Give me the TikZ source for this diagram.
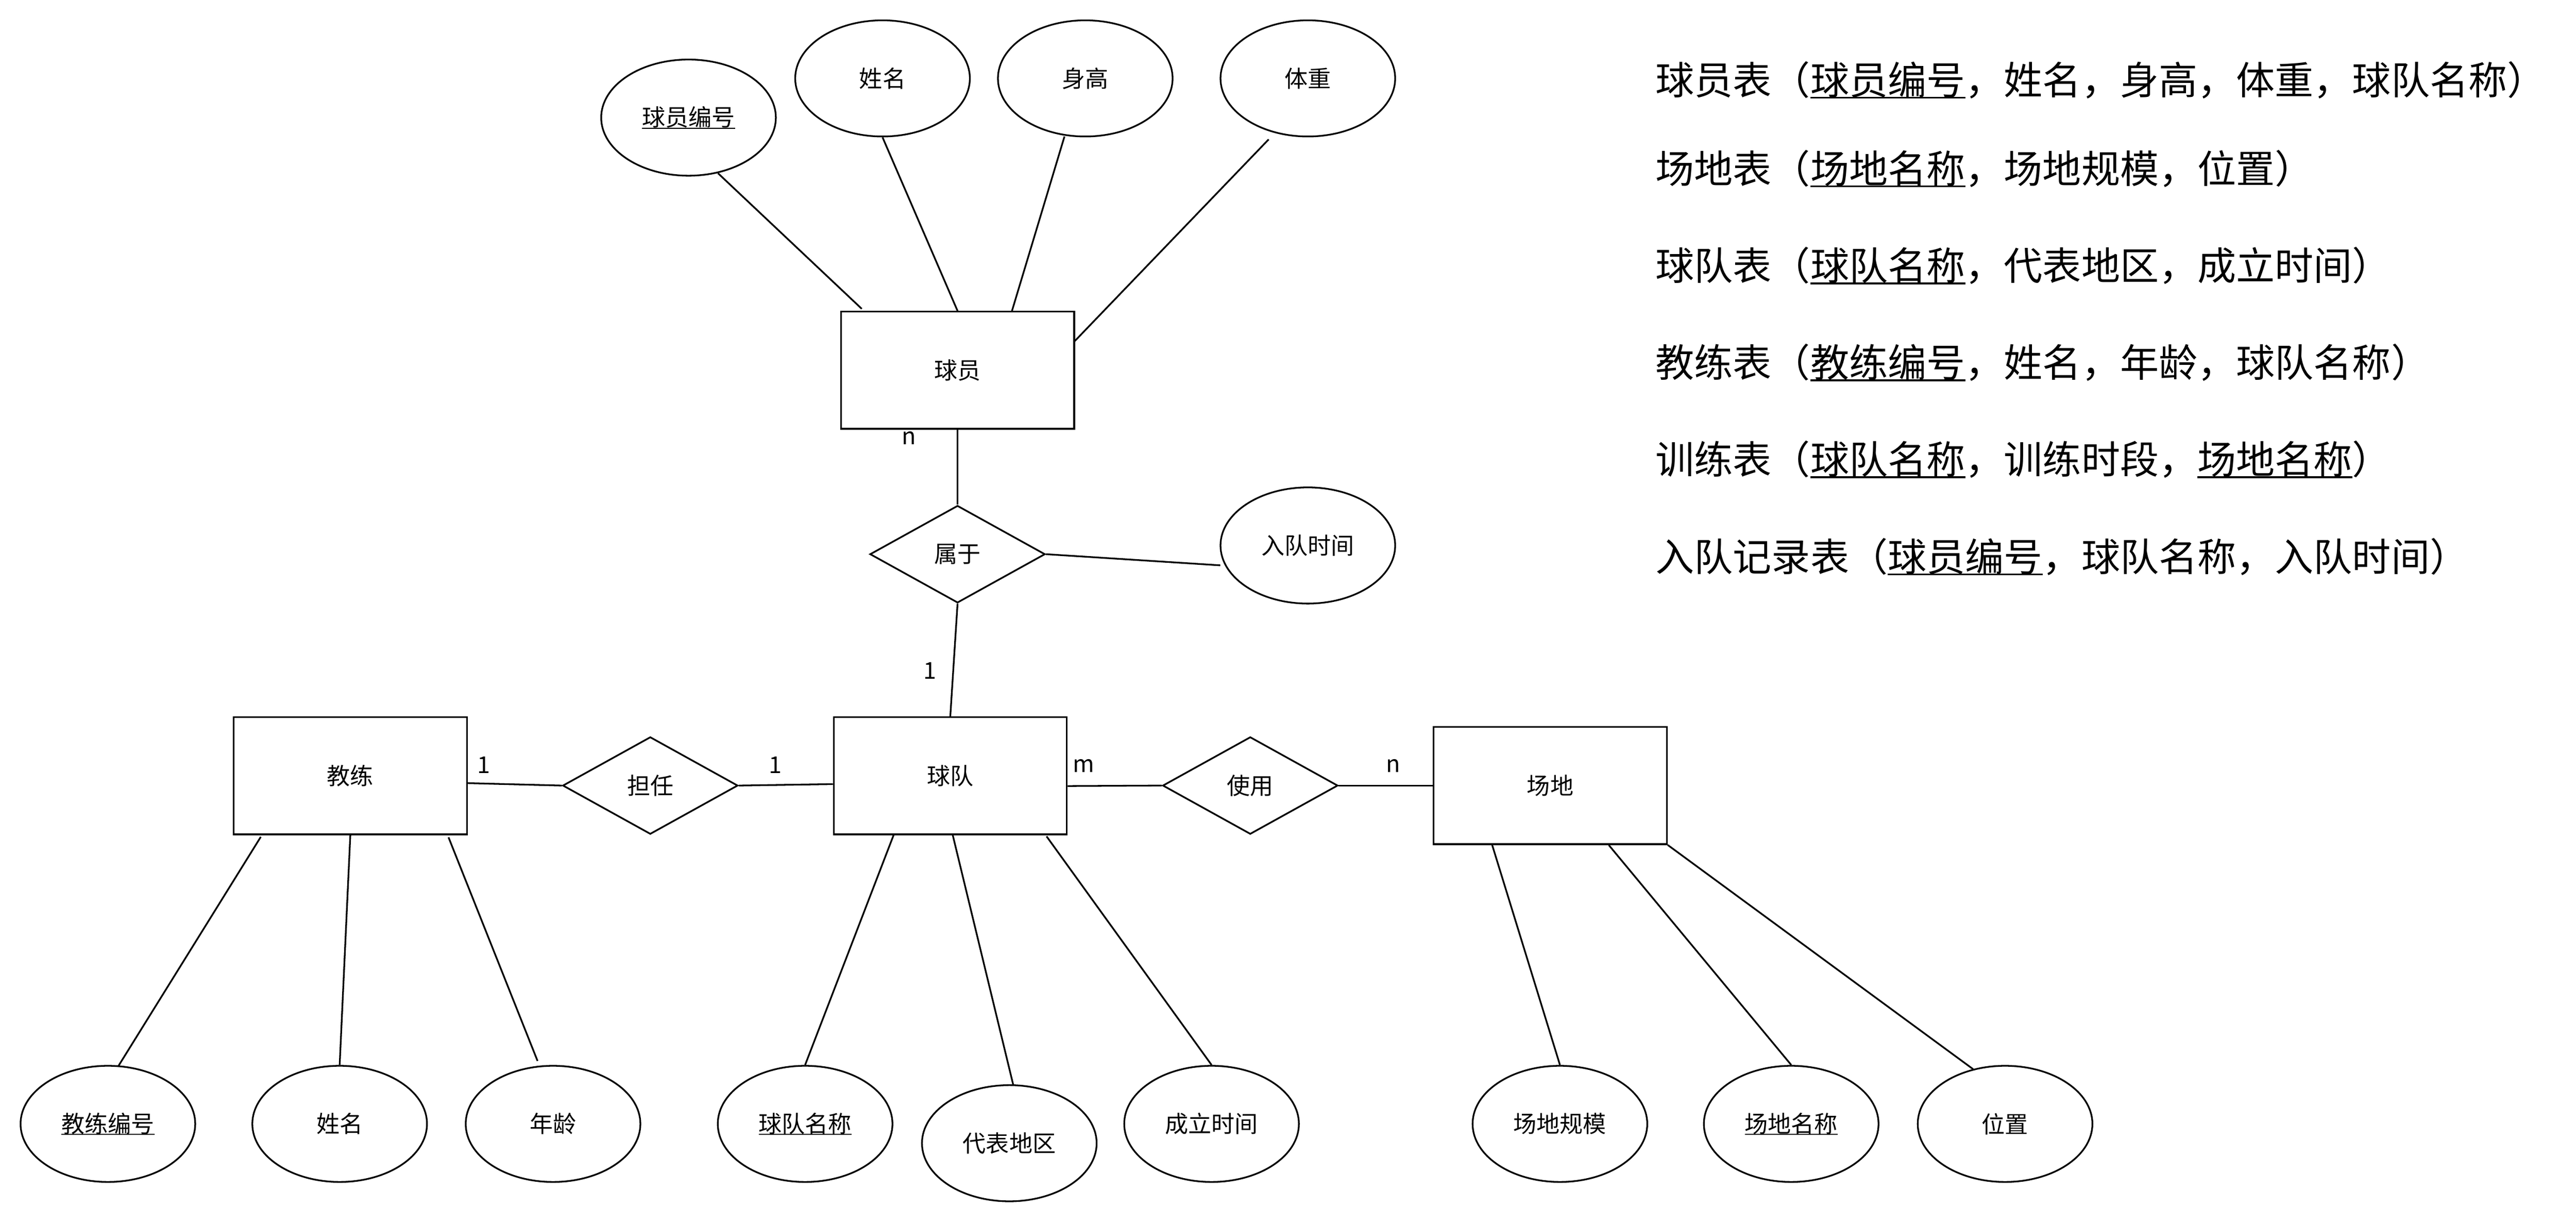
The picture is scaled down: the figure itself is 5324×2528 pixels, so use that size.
\documentclass[tikz,border=0pt]{standalone}
\usepackage{fontspec}
\setmainfont{Noto Sans CJK SC}
\usetikzlibrary{shapes.geometric,calc}
\newcommand{\myul}[1]{\setbox0=\hbox{#1}\leavevmode\rlap{\rule[-0.11em]{\wd0}{0.05em}}\box0}
\tikzset{
  ent/.style={draw, rectangle, minimum width=482, minimum height=242, inner sep=0},
  attr/.style={draw, ellipse, minimum width=361, minimum height=240, inner sep=0},
  rel/.style={draw, diamond, minimum width=362, minimum height=201, inner sep=0, aspect=1.8},
  card/.style={inner sep=0},
  tbl/.style={anchor=base west, inner sep=0, font=\fontsize{80}{96}\selectfont},
}
\begin{document}
\begin{tikzpicture}[x=1pt, y=-1pt, line width=3.5pt,
  every node/.append style={font=\fontsize{48}{58}\selectfont}]
\useasboundingbox (0,0) rectangle (5324,2528);

% entities
\node[ent] (pl) at (1979,765) {球员};
\node[ent] (tm) at (1964,1603) {球队};
\node[ent] (co) at (724,1603) {教练};
\node[ent] (ven) at (3204,1623) {场地};

% relationships
\node[rel] (bel) at (1979,1145) {属于};
\node[rel] (srv) at (1344,1623) {担任};
\node[rel] (use) at (2584,1623) {使用};

% attributes
\node[attr] (pid) at (1423,243) {\myul{球员编号}};
\node[attr] (pnm) at (1824,162) {姓名};
\node[attr] (pht) at (2243,162) {身高};
\node[attr] (pwt) at (2703,162) {体重};
\node[attr] (jt) at (2703,1127) {入队时间};
\node[attr] (cid) at (223,2322) {\myul{教练编号}};
\node[attr] (cnm) at (702,2322) {姓名};
\node[attr] (cag) at (1143,2322) {年龄};
\node[attr] (tnm) at (1664,2322) {\myul{球队名称}};
\node[attr] (trg) at (2086,2362) {代表地区};
\node[attr] (ttm) at (2504,2322) {成立时间};
\node[attr] (vsc) at (3224,2322) {场地规模};
\node[attr] (vnm) at (3702,2322) {\myul{场地名称}};
\node[attr] (vlc) at (4144,2322) {位置};

% connectors: player attributes
\draw ($(pid)+(61,115)$) -- ($(pl)+(-198,-127)$);
\draw (pnm.south) -- (pl.north);
\draw ($(pht)+(-43,120)$) -- ($(pl)+(112,-121)$);
\draw ($(pwt)+(-81,126)$) -- ($(pl)+(241,-59)$);
% relationships
\draw (pl.south) -- (bel.north);
\draw (bel.east) -- ($(jt)+(-181,41)$);
\draw (bel.south) -- (tm.north);
\draw ($(co.east)+(0,15)$) -- (srv.west);
\draw (srv.east) -- ($(tm.west)+(0,17)$);
\draw ($(tm.east)+(0,21)$) -- (use.west);
\draw (use.east) -- (ven.west);
% coach attributes
\draw ($(co)+(-185,126)$) -- ($(cid)+(22,-120)$);
\draw (co.south) -- (cnm.north);
\draw ($(co)+(203,127)$) -- ($(cag)+(-32,-130)$);
% team attributes
\draw ($(tm)+(-117,122)$) -- (tnm.north);
\draw ($(tm)+(5,122)$) -- ($(trg)+(8,-121)$);
\draw ($(tm)+(199,125)$) -- (ttm.north);
% venue attributes
\draw ($(ven)+(-120,123)$) -- (vsc.north);
\draw ($(ven)+(121,123)$) -- (vnm.north);
\draw (ven.south east) -- ($(vlc)+(-66,-113)$);

% cardinalities
\node[card] (c1) at (1879,905) {n};
\node[card] (c2) at (1922,1386) {1};
\node[card] (c3) at (1000,1581) {1};
\node[card] (c4) at (1603,1581) {1};
\node[card] (c5) at (2240,1582) {m};
\node[card] (c6) at (2879,1582) {n};

% relational schema
\node[tbl] (r1) at (3420,195) {球员表（\myul{球员编号}，姓名，身高，体重，球队名称）};
\node[tbl] (r2) at (3420,378) {场地表（\myul{场地名称}，场地规模，位置）};
\node[tbl] (r3) at (3420,579) {球队表（\myul{球队名称}，代表地区，成立时间）};
\node[tbl] (r4) at (3420,779) {教练表（\myul{教练编号}，姓名，年龄，球队名称）};
\node[tbl] (r5) at (3420,979) {训练表（\myul{球队名称}，训练时段，\myul{场地名称}）};
\node[tbl] (r6) at (3420,1180) {入队记录表（\myul{球员编号}，球队名称，入队时间）};
\end{tikzpicture}
\end{document}
